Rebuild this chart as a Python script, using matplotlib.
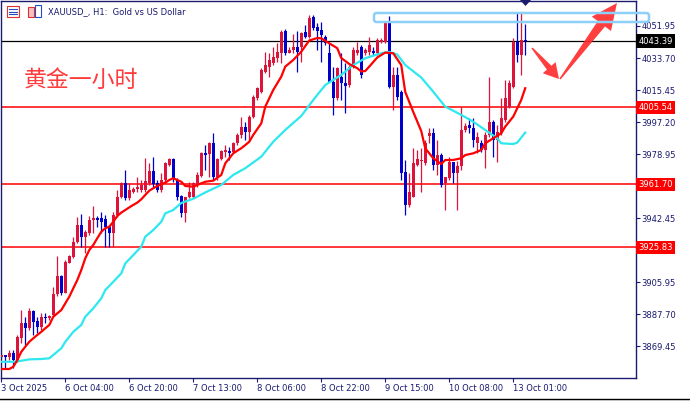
import matplotlib
matplotlib.use("Agg")
import matplotlib.pyplot as plt
from matplotlib.patches import Polygon, Rectangle, FancyBboxPatch
import numpy as np

# H1 candles, XAUUSD, starting 3 Oct 11:00 (bar 0)
opens = [
    3863.3, 3864.5, 3863.5, 3865.8, 3861.6, 3873.9, 3882.9, 3879.7, 3889.5, 3884.0,
    3880.6, 3886.3, 3885.4, 3887.3, 3899.2, 3909.5, 3900.0, 3917.1, 3920.5, 3929.0,
    3938.6, 3931.9, 3934.2, 3941.4, 3942.4, 3942.4, 3941.8, 3937.6, 3933.8, 3944.2,
    3954.7, 3962.3, 3953.8, 3957.5, 3958.9, 3958.5, 3958.5, 3962.3, 3969.3, 3962.5,
    3958.5, 3964.2, 3972.8, 3976.0, 3964.2, 3955.1, 3945.6, 3954.3, 3954.7, 3961.4,
    3966.5, 3979.4, 3979.0, 3985.5, 3966.1, 3976.0, 3980.3, 3980.9, 3980.3, 3985.1,
    3989.9, 3994.6, 3991.7, 4000.3, 4010.8, 4014.5, 4025.9, 4028.8, 4030.7, 4033.6,
    4036.4, 4049.3, 4036.8, 4038.3, 4040.2, 4040.2, 4048.7, 4045.9, 4057.3, 4051.6,
    4049.7, 4045.9, 4036.4, 4020.2, 4010.8, 4023.1, 4019.3, 4018.3, 4028.8, 4036.4,
    4040.2, 4036.4, 4037.3, 4037.9, 4036.4, 4043.0, 4043.0, 4053.5, 4017.4, 4024.1,
    4014.5, 3968.9, 3950.0, 3954.7, 3972.8, 3975.0, 3973.7, 3989.3, 3990.8, 3972.8,
    3978.4, 3962.3, 3965.2, 3974.3, 3968.0, 3972.2, 3992.7, 3995.6, 3993.7, 3985.1,
    3985.5, 3981.3, 3989.9, 3997.4, 3987.0, 3990.8, 3998.4, 4006.0, 4017.4, 4043.0,
    4035.4, 4044.0]
highs = [
    3865.0, 3864.5, 3867.3, 3867.3, 3875.9, 3890.1, 3886.3, 3891.4, 3890.1, 3886.3,
    3888.6, 3888.6, 3887.3, 3903.0, 3920.9, 3910.0, 3918.6, 3921.5, 3931.9, 3943.3,
    3944.8, 3935.7, 3943.7, 3949.4, 3943.7, 3946.1, 3944.2, 3938.6, 3946.1, 3958.5,
    3963.2, 3969.9, 3962.3, 3960.4, 3966.1, 3964.2, 3976.6, 3973.7, 3977.5, 3964.2,
    3968.0, 3974.6, 3976.6, 3976.6, 3965.2, 3955.7, 3954.7, 3963.2, 3963.2, 3968.9,
    3980.3, 3984.1, 3986.0, 3991.2, 3976.6, 3981.3, 3984.1, 3983.2, 3986.0, 3990.8,
    4000.3, 3997.4, 4001.2, 4012.7, 4017.4, 4027.9, 4037.3, 4036.4, 4040.2, 4042.1,
    4049.7, 4050.1, 4040.2, 4047.2, 4049.3, 4048.7, 4052.6, 4058.3, 4058.3, 4053.5,
    4054.4, 4046.9, 4042.1, 4028.8, 4028.8, 4036.4, 4030.7, 4029.7, 4040.2, 4043.0,
    4041.2, 4039.3, 4045.9, 4040.2, 4045.0, 4045.0, 4054.4, 4057.7, 4028.8, 4028.8,
    4015.5, 3975.6, 3968.0, 3982.3, 3981.3, 3982.3, 3987.0, 3993.7, 3993.7, 3987.0,
    3979.4, 3966.1, 3977.5, 3974.6, 3975.2, 4006.0, 3996.5, 3999.4, 3999.4, 3991.7,
    3987.0, 3991.7, 4023.1, 3998.4, 3995.6, 4010.8, 4021.2, 4021.2, 4045.0, 4060.1,
    4059.6, 4053.1]
lows = [
    3862.7, 3856.9, 3861.6, 3856.9, 3860.6, 3871.1, 3870.1, 3878.7, 3875.9, 3876.8,
    3878.7, 3882.5, 3884.4, 3886.3, 3898.1, 3898.6, 3899.6, 3916.7, 3919.6, 3928.1,
    3926.2, 3922.4, 3932.9, 3933.8, 3937.6, 3933.8, 3926.2, 3926.2, 3926.2, 3943.3,
    3953.8, 3952.8, 3952.8, 3956.8, 3957.5, 3957.5, 3957.5, 3961.4, 3960.4, 3957.5,
    3957.5, 3963.2, 3972.2, 3963.2, 3952.8, 3942.9, 3940.4, 3953.8, 3953.8, 3960.4,
    3966.1, 3969.9, 3966.1, 3964.2, 3964.2, 3975.6, 3977.5, 3975.6, 3979.4, 3984.1,
    3988.0, 3987.0, 3987.0, 3999.4, 4009.8, 4013.6, 4025.0, 4023.1, 4029.7, 4031.6,
    4030.7, 4035.4, 4036.4, 4036.4, 4025.9, 4031.6, 4045.0, 4045.0, 4049.7, 4038.3,
    4031.6, 4041.1, 4020.2, 4001.3, 4009.8, 4009.8, 4002.2, 4017.4, 4027.9, 4035.4,
    4022.2, 4035.4, 4035.4, 4035.4, 4035.4, 4042.1, 4042.1, 4016.5, 4004.1, 4009.8,
    3964.2, 3944.2, 3949.0, 3954.7, 3972.2, 3957.5, 3972.8, 3985.1, 3969.9, 3967.1,
    3960.4, 3947.1, 3964.2, 3962.3, 3947.1, 3969.9, 3991.7, 3990.8, 3983.2, 3979.4,
    3980.3, 3970.9, 3988.9, 3977.5, 3974.6, 3989.9, 3997.4, 4005.1, 4016.5, 4031.6,
    4024.1, 4035.4]
closes = [
    3864.5, 3863.1, 3865.8, 3861.6, 3874.5, 3882.5, 3879.7, 3889.5, 3883.4, 3880.6,
    3886.0, 3885.4, 3886.8, 3899.2, 3909.5, 3900.0, 3917.6, 3920.9, 3929.0, 3938.6,
    3931.9, 3934.7, 3941.4, 3942.7, 3941.4, 3940.3, 3937.6, 3933.8, 3944.2, 3954.7,
    3962.3, 3953.8, 3958.5, 3958.9, 3960.4, 3961.4, 3963.8, 3969.3, 3961.9, 3958.5,
    3964.2, 3973.7, 3976.0, 3964.8, 3954.7, 3945.6, 3954.3, 3957.5, 3962.3, 3967.1,
    3979.8, 3978.4, 3985.5, 3966.1, 3976.0, 3980.9, 3981.3, 3979.4, 3985.1, 3989.9,
    3994.6, 3991.7, 4000.3, 4011.7, 4016.5, 4026.9, 4029.7, 4032.6, 4034.5, 4037.3,
    4048.7, 4036.4, 4038.3, 4040.2, 4037.3, 4048.2, 4045.5, 4056.4, 4050.7, 4049.3,
    4046.9, 4042.1, 4020.2, 4010.8, 4027.9, 4019.3, 4017.8, 4028.8, 4038.3, 4038.3,
    4024.1, 4038.3, 4041.2, 4036.8, 4044.0, 4044.0, 4053.5, 4017.4, 4024.1, 4011.7,
    3968.4, 3950.0, 3957.5, 3973.7, 3976.0, 3975.6, 3985.5, 3990.8, 3972.8, 3978.4,
    3961.4, 3966.1, 3974.3, 3968.0, 3972.2, 3992.7, 3995.0, 3993.7, 3987.0, 3988.9,
    3981.3, 3989.9, 3997.4, 3987.0, 3991.7, 3999.4, 4010.8, 4019.3, 4043.0, 4035.4,
    4044.0, 4043.39]

# fast MA (red) at these bars
fast_ma_bars = [0, 2, 3, 4, 5, 6, 7, 8, 9, 10, 11, 12, 13, 14, 15, 16, 17, 18, 19, 20,
                21, 22, 23, 24, 25, 26, 27, 28, 29, 30, 31, 32, 33, 34, 35, 36, 37, 38, 39,
                40, 41, 42, 43, 45, 46, 48, 50, 51, 53, 55, 56, 58, 60, 61, 62, 63, 65, 66,
                68, 70, 71, 73, 75, 77, 79, 80, 82, 84, 85, 87, 89, 90, 91, 92, 94, 96, 98,
                100, 101, 103, 105, 106, 108, 110, 111, 113, 115, 116, 118, 120, 121, 123,
                125, 126, 128, 130, 131]
fast_ma = [3856.5, 3856.5, 3857.8, 3861.6, 3866.3, 3869.2, 3872.0, 3874.0, 3875.9, 3877.7,
           3879.7, 3881.6, 3886.3, 3888.2, 3890.1, 3893.9, 3897.7, 3902.5, 3907.2, 3912.9,
           3919.6, 3924.3, 3927.2, 3931.0, 3934.7, 3936.7, 3937.6, 3940.4, 3943.7, 3945.6,
           3947.1, 3948.6, 3950.0, 3951.3, 3953.2, 3955.7, 3958.1, 3959.5, 3960.8, 3961.9,
           3962.7, 3964.2, 3965.2, 3963.2, 3960.8, 3960.4, 3962.3, 3963.2, 3963.8, 3967.1,
           3973.7, 3979.4, 3982.3, 3984.1, 3986.0, 3989.9, 3996.5, 4006.0, 4015.5, 4023.1,
           4028.8, 4032.6, 4037.3, 4043.7, 4045.1, 4044.9, 4042.1, 4039.3, 4033.7, 4030.3,
           4027.9, 4026.0, 4026.3, 4028.8, 4034.0, 4036.8, 4036.4, 4029.7, 4014.4, 4003.0,
           3992.1, 3982.3, 3976.6, 3973.3, 3975.6, 3975.6, 3976.6, 3978.4, 3979.4, 3981.3,
           3985.1, 3988.0, 3990.8, 3994.6, 4000.3, 4009.8, 4016.5]

# slow MA (cyan)
slow_ma_bars = [0, 3, 5, 7, 10, 12, 13, 15, 16, 18, 20, 21, 23, 25, 26, 28, 30, 31, 33, 35,
                36, 38, 40, 41, 43, 45, 48, 51, 55, 57, 58, 61, 65, 68, 71, 75, 78, 81, 85,
                88, 91, 95, 97, 99, 101, 105, 108, 111, 115, 118, 121, 124, 125, 128, 129, 131]
slow_ma = [3860.6, 3860.6, 3861.2, 3862.0, 3862.2, 3862.6, 3864.5, 3868.3, 3872.0, 3877.7,
           3881.6, 3886.3, 3891.1, 3896.8, 3901.5, 3906.2, 3911.0, 3916.7, 3921.4, 3926.2,
           3931.9, 3935.7, 3940.4, 3945.2, 3947.1, 3951.1, 3953.5, 3957.1, 3961.4, 3965.2,
           3967.1, 3970.9, 3977.5, 3986.0, 3992.7, 4000.7, 4009.8, 4018.3, 4024.1, 4029.7,
           4033.6, 4036.4, 4037.2, 4035.7, 4029.7, 4022.6, 4014.5, 4006.0, 4001.3, 3997.4,
           3992.7, 3988.0, 3985.1, 3984.7, 3985.5, 3991.2]

level_prices = [4005.54, 3961.70, 3925.83]
current_price = 4043.39
price_ticks = [4051.95, 4033.70, 4015.45, 3997.20, 3978.95, 3960.70, 3942.45,
               3924.20, 3905.95, 3887.70, 3869.45]
time_tick_bars = [0, 16, 32, 48, 64, 80, 96, 112, 128]
time_tick_labels = ["3 Oct 2025", "6 Oct 04:00", "6 Oct 20:00", "7 Oct 13:00", "8 Oct 06:00",
                    "8 Oct 22:00", "9 Oct 15:00", "10 Oct 08:00", "13 Oct 01:00"]

NAVY = "#1a1a6e"
BULL = "#dc143c"
BEAR = "#0000cd"

W, H = 690, 401
fig = plt.figure(figsize=(W / 100, H / 100), dpi=100)
fig.patch.set_facecolor("white")

# plot area in pixels: x 1..636, y 1..378
ax = fig.add_axes([1 / W, (H - 378) / H, 635 / W, 377 / H])
ax.set_facecolor("white")
ax.set_xlim(-0.075, 158.7)
ax.set_ylim(3851.38, 4066.19)

for sp in ax.spines.values():
    sp.set_color(NAVY)
    sp.set_linewidth(1.0)

# horizontal levels
ax.axhline(current_price, color="black", lw=0.9, zorder=1)
for p in level_prices:
    ax.axhline(p, color="#ff0000", lw=1.1, zorder=1)

o = np.array(opens)
c = np.array(closes)
hi = np.array(highs)
lo = np.array(lows)
idx = np.arange(len(o))
up = c >= o
cols = np.where(up, BULL, BEAR)

ax.vlines(idx, lo, hi, colors=cols, lw=0.9, zorder=2)
body_h = np.maximum(np.abs(c - o), 0.6)
body_b = np.minimum(o, c)
ax.bar(idx, body_h, bottom=body_b, width=0.75, color=cols, linewidth=0, zorder=3)

ax.plot(slow_ma_bars, slow_ma, color="#2ee8ef", lw=1.6, zorder=4, solid_joinstyle="round")
ax.plot(fast_ma_bars, fast_ma, color="#ff0000", lw=1.6, zorder=4, solid_joinstyle="round")

# right price scale; values sitting right under a level box are hidden by it
ax.yaxis.tick_right()
ax.set_yticks(price_ticks)
hidden = [t for t in price_ticks if any(abs(t - lvl) < 3 for lvl in level_prices)]
ax.set_yticklabels(["" if v in hidden else "%.2f" % v for v in price_ticks])
ax.tick_params(axis="y", direction="out", length=3, width=0.8, color=NAVY,
               labelcolor=NAVY, labelsize=6, pad=1)
ax.set_xticks(time_tick_bars)
ax.set_xticklabels(time_tick_labels)
ax.tick_params(axis="x", direction="out", length=3, width=0.8, color=NAVY,
               labelcolor=NAVY, labelsize=6, pad=1.5)
for lab in ax.get_xticklabels():
    lab.set_horizontalalignment("left")

ytr = ax.get_yaxis_transform()
ax.text(1.004, current_price, "%.2f" % current_price, transform=ytr, ha="left", va="center",
        fontsize=6, color="white", zorder=10, clip_on=False,
        bbox=dict(boxstyle="square,pad=0.25", fc="black", ec="none"))
for p in level_prices:
    ax.text(1.004, p, "%.2f" % p, transform=ytr, ha="left", va="center",
            fontsize=6, color="white", zorder=10, clip_on=False,
            bbox=dict(boxstyle="square,pad=0.25", fc="#ff0000", ec="none"))

# overlay in pixel coordinates for drawings and header
ov = fig.add_axes([0, 0, 1, 1], zorder=5)
ov.set_xlim(0, W)
ov.set_ylim(H, 0)
ov.axis("off")
ov.patch.set_alpha(0)


def arrow(x0, y0, x1, y1, w0, w1, hw, hl, color):
    d = np.array([x1 - x0, y1 - y0], dtype=float)
    d /= np.hypot(*d)
    n = np.array([-d[1], d[0]])
    tail = np.array([x0, y0], dtype=float)
    tip = np.array([x1, y1], dtype=float)
    base = tip - d * hl
    pts = [tail + n * w0 / 2, base + n * w1 / 2, base + n * hw / 2, tip,
           base - n * hw / 2, base - n * w1 / 2, tail - n * w0 / 2]
    ov.add_patch(Polygon(pts, closed=True, fc=color, ec="none", alpha=0.9))


arrow(532, 48, 559, 79, 1.5, 6, 17, 15, "#ff2a2a")
arrow(560, 79, 617, 3, 1.5, 9, 24, 26, "#ff2a2a")

# light blue zone box
ov.add_patch(FancyBboxPatch((374, 13), 275, 9, boxstyle="round,pad=0,rounding_size=2.5",
                            fc="none", ec="#8ccff8", lw=1.8))

# shift marker at top
ov.add_patch(Polygon([(520, 0), (531, 0), (525.5, 6)], closed=True, fc=NAVY, ec="none"))

# header
ov.add_patch(Rectangle((7, 6), 12, 11, fc="white", ec="#e03030", lw=0.8))
for yy in (9, 11.5, 14):
    ov.plot([9, 17], [yy, yy], color="#1f4fc0", lw=0.8)
ov.add_patch(Rectangle((28, 7), 6, 10, fc="#f4c0c0", ec="#e03030", lw=0.8))
ov.add_patch(Rectangle((35, 5), 6, 12, fc="white", ec="#1f4fc0", lw=0.8))
ov.text(48, 12, "XAUUSD_, H1:  Gold vs US Dollar", fontsize=6, color=NAVY,
        ha="left", va="center")

ov.text(24, 80, "黄金一小时", fontsize=16.5, color="#ff3b3b", ha="left", va="center",
        family=["Noto Sans CJK SC", "DejaVu Sans"])

# bottom tab bar line
ov.plot([0, W], [398.5, 398.5], color="black", lw=1.0)
ov.add_patch(Rectangle((0, 399), W, 2, fc="#f0f0f0", ec="none"))

fig.savefig("out.png", dpi=100, facecolor="white")
